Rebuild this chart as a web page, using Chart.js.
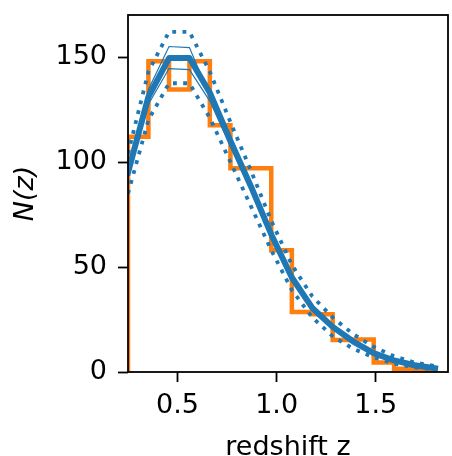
<!DOCTYPE html>
<html>
<head>
<meta charset="utf-8">
<script src="https://cdn.jsdelivr.net/npm/chart.js@4.4.1/dist/chart.umd.min.js"></script>
<style>
  html, body { margin: 0; padding: 0; background: #fff; }
  #wrap { width: 452px; height: 456px; }
</style>
</head>
<body>
<div id="wrap"><canvas id="c" width="452" height="456"></canvas></div>
<script>
// ---- data ----
const zGrid = [0.25, 0.353, 0.457, 0.56, 0.663, 0.767, 0.87, 0.973, 1.077, 1.18, 1.283, 1.387, 1.49, 1.593, 1.697, 1.8];
const binEdges = [0.25, 0.353, 0.457, 0.56, 0.663, 0.767, 0.87, 0.973, 1.077, 1.18, 1.283, 1.387, 1.49, 1.593, 1.697, 1.8];
const histCounts = [112, 148, 134.5, 148, 117.5, 97, 97, 58, 28.6, 27.5, 15.2, 15.5, 4.5, 1.6, 1.2];
const nzMain      = [95, 131, 149.5, 149.5, 133, 110, 88.5, 65.5, 45, 30.5, 21.5, 14.5, 9, 5.5, 3.2, 1.8];
const nzUpperThin = [97, 134.5, 155, 154.5, 131.5, 107.5, 87, 65, 45, 30.5, 21.5, 14.5, 9, 5.5, 3.2, 1.8];
const nzLowerThin = [93, 127.5, 144.5, 144, 129, 107.5, 87.5, 65.5, 45, 30.5, 21.5, 14.5, 9, 5.5, 3.2, 1.8];
const nzUpperDot  = [104, 143, 162, 162, 143, 119, 96, 72, 51, 36, 26, 18, 12, 7.5, 4.5, 2.8];
const nzLowerDot  = [85, 120, 137.5, 137.5, 121, 100, 79, 58, 39, 26, 17, 11, 7, 4, 2.2, 1.2];
const xTicks = [0.5, 1.0, 1.5];
const yTicks = [0, 50, 100, 150];
const xLabel = 'redshift z';
const yLabel = 'N(z)';

const BLUE = '#1f77b4';
const ORANGE = '#ff7f0e';

function pts(xs, ys) { return xs.map((x, i) => ({ x: x, y: ys[i] })); }
function stepPts(edges, counts) {
  const out = [{ x: edges[0], y: 0 }];
  counts.forEach((c, i) => { out.push({ x: edges[i], y: c }); out.push({ x: edges[i + 1], y: c }); });
  out.push({ x: edges[edges.length - 1], y: 0 });
  return out;
}

const frame = {
  id: 'frame',
  afterDatasetsDraw(chart) {
    const a = chart.chartArea, ctx = chart.ctx;
    ctx.save();
    ctx.strokeStyle = '#000';
    ctx.lineWidth = 1.8;
    ctx.strokeRect(a.left, a.top, a.right - a.left, a.bottom - a.top);
    ctx.restore();
  }
};

Chart.defaults.font.family = "'DejaVu Sans', sans-serif";
Chart.defaults.color = '#000';

const common = { showLine: true, pointRadius: 0, pointHoverRadius: 0, tension: 0, clip: 0, fill: false };

new Chart(document.getElementById('c'), {
  type: 'scatter',
  data: {
    datasets: [
      Object.assign({ label: 'main', data: pts(zGrid, nzMain), borderColor: BLUE, borderWidth: 6,
        borderJoinStyle: 'round', borderCapStyle: 'square', order: 1 }, common),
      Object.assign({ label: 'upper', data: pts(zGrid, nzUpperThin), borderColor: BLUE, borderWidth: 1.2, order: 2 }, common),
      Object.assign({ label: 'lower', data: pts(zGrid, nzLowerThin), borderColor: BLUE, borderWidth: 1.2, order: 2 }, common),
      Object.assign({ label: 'upperDot', data: pts(zGrid, nzUpperDot), borderColor: BLUE, borderWidth: 3.8,
        borderDash: [3.8, 6.4], borderCapStyle: 'butt', order: 2 }, common),
      Object.assign({ label: 'lowerDot', data: pts(zGrid, nzLowerDot), borderColor: BLUE, borderWidth: 3.8,
        borderDash: [3.8, 6.4], borderCapStyle: 'butt', order: 2 }, common),
      Object.assign({ label: 'hist', data: stepPts(binEdges, histCounts), borderColor: ORANGE, borderWidth: 4.5,
        borderJoinStyle: 'miter', order: 5 }, common)
    ]
  },
  options: {
    responsive: false,
    animation: false,
    events: [],
    layout: { padding: { top: 15, right: 4, left: 0, bottom: 0 } },
    plugins: { legend: { display: false }, tooltip: { enabled: false } },
    scales: {
      x: {
        type: 'linear', min: 0.25, max: 1.865,
        afterBuildTicks: (s) => { s.ticks = xTicks.map(v => ({ value: v })); },
        afterFit: (s) => { s.height = 84; },
        ticks: { font: { size: 27 }, padding: 8, maxRotation: 0, callback: (v) => Number(v).toFixed(1) },
        grid: { drawOnChartArea: false, drawTicks: true, tickLength: 10, tickWidth: 1.8, tickColor: '#000' },
        border: { display: false },
        title: { display: true, text: xLabel, font: { size: 27, lineHeight: 1.0 }, padding: { top: 0, bottom: -5 } }
      },
      y: {
        type: 'linear', min: 0, max: 170,
        afterBuildTicks: (s) => { s.ticks = yTicks.map(v => ({ value: v })); },
        afterFit: (s) => { s.width = 128; s.paddingTop = 0; s.paddingBottom = 0; },
        ticks: { font: { size: 27, lineHeight: 0.5 }, padding: 11, callback: (v) => String(v) },
        grid: { drawOnChartArea: false, drawTicks: true, tickLength: 10, tickWidth: 1.8, tickColor: '#000' },
        border: { display: false },
        title: { display: true, text: yLabel, font: { size: 27, style: 'italic', lineHeight: 1.0 }, padding: { top: 12, bottom: 0 } }
      }
    }
  },
  plugins: [frame]
});
</script>
</body>
</html>
